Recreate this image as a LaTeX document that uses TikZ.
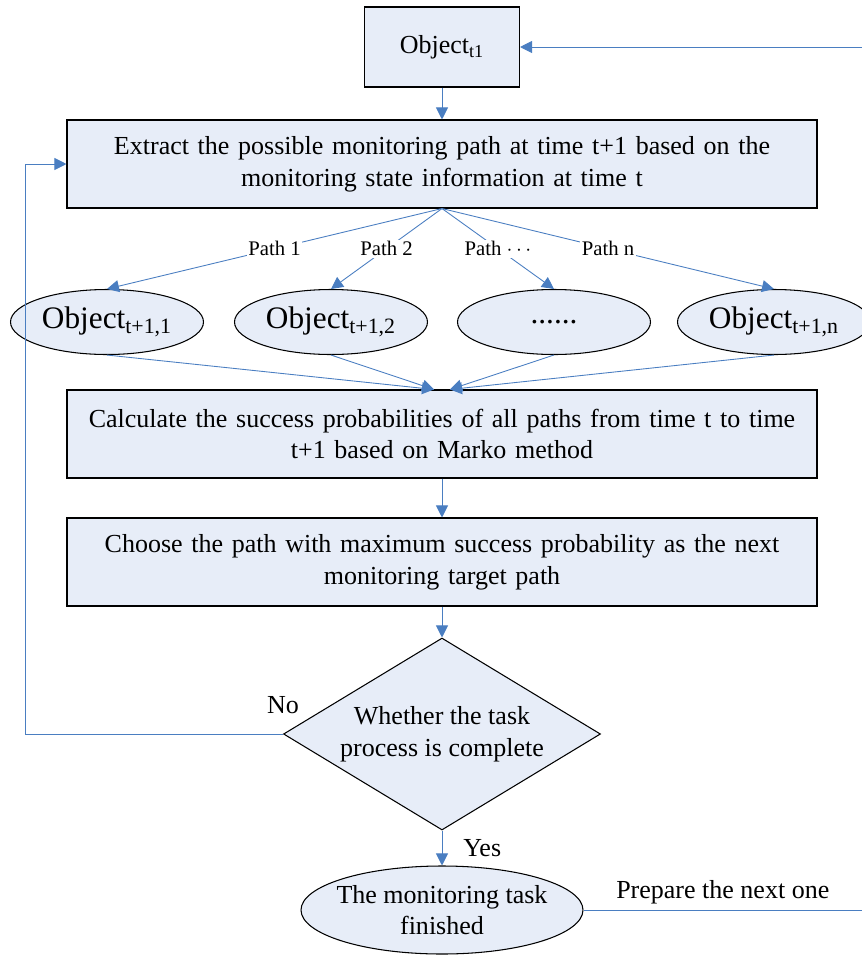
\documentclass[tikz,border=0pt]{standalone}
\usepackage{fontspec}
\setmainfont{Liberation Serif}
\usetikzlibrary{shapes.geometric,arrows.meta}
\definecolor{boxfill}{RGB}{231,237,248}
\definecolor{flowblue}{RGB}{74,126,193}
\newcommand{\flowfont}{\fontsize{14.8}{18}\selectfont}

\begin{document}
\begin{tikzpicture}[node distance=2cm, auto]
\tikzstyle{block} = [rectangle, draw, line width=0.6pt, fill=boxfill, inner sep=0pt, text width=15cm, align=center, minimum height=1.76cm, font=\flowfont]
\tikzstyle{objbox} = [rectangle, draw, line width=0.6pt, fill=boxfill, minimum width=3.1cm, minimum height=1.6cm, font=\flowfont]
\tikzstyle{state} = [ellipse, draw, line width=0.6pt, fill=boxfill, inner sep=0pt, minimum width=3.86cm, minimum height=1.3cm, font=\fontsize{17.8}{20}\selectfont]
\tikzstyle{final} = [ellipse, draw, line width=0.6pt, fill=boxfill, inner xsep=-0.2cm, inner ysep=0pt, align=center, minimum width=5.64cm, minimum height=1.76cm, font=\flowfont]
\tikzstyle{decision} = [diamond, draw, line width=0.6pt, fill=boxfill, aspect=1.65, inner sep=0pt, align=center, minimum width=6.34cm, minimum height=3.84cm, font=\flowfont]
\tikzstyle{arrow} = [draw=flowblue, line width=0.5pt, ->, >={Triangle[length=0.24cm,width=0.24cm]}]
\tikzstyle{link} = [draw=flowblue, line width=0.5pt]
\tikzstyle{pathlabel} = [auto=false, fill=white, inner sep=1pt, font=\fontsize{11.8}{13}\selectfont]

\useasboundingbox (0,0) rectangle (17.24,-19.1);

\node [objbox] (obj) at (8.84,-0.94) {Object\textsubscript{t1}};
\node [block, below of=obj, node distance=2.34cm] (extract) {Extract the possible monitoring path at time t+1 based on the\\monitoring state information at time t};
\node [state, below of=extract, node distance=3.16cm, xshift=-6.7cm] (obj1) {Object\textsubscript{t+1,1}};
\node [state, below of=extract, node distance=3.16cm, xshift=-2.22cm] (obj2) {Object\textsubscript{t+1,2}};
\node [state, below of=extract, node distance=3.16cm, xshift=2.24cm] (objdots) {......};
\node [state, below of=extract, node distance=3.16cm, xshift=6.64cm] (objn) {Object\textsubscript{t+1,n}};
\node [block, below of=extract, node distance=5.4cm] (calc) {Calculate the success probabilities of all paths from time t to time\\t+1 based on Marko method};
\node [block, below of=calc, node distance=2.56cm] (choose) {Choose the path with maximum success probability as the next\\monitoring target path};
\node [decision, below of=choose, node distance=3.44cm] (check) {Whether the task\\process is complete};
\node [final, below of=check, node distance=3.52cm] (done) {The monitoring task\\finished};

\coordinate [right of=obj, node distance=8.4cm] (feedin);
\coordinate [right of=done, node distance=8.4cm] (feedout);
\coordinate [left of=extract, node distance=8.34cm] (loopup);
\node [font=\flowfont] (nolabel) at ([yshift=0.58cm]check.west) {No};

\draw [arrow] (feedin) -- (obj);
\draw [arrow] (obj) -- (extract);

% fan out to the candidate paths
\draw [arrow] (extract.south) -- node[pathlabel] {Path 1} (obj1.north);
\draw [arrow] (extract.south) -- node[pathlabel] {Path 2} (obj2.north);
\draw [arrow] (extract.south) -- node[pathlabel] {Path $\cdots$} (objdots.north);
\draw [arrow] (extract.south) -- node[pathlabel] {Path n} (objn.north);

\draw [arrow] (obj1.south) -- ([xshift=-0.16cm]calc.north);
\draw [arrow] (obj2.south) -- ([xshift=-0.16cm]calc.north);
\draw [arrow] (objdots.south) -- ([xshift=0.16cm]calc.north);
\draw [arrow] (objn.south) -- ([xshift=0.16cm]calc.north);

\draw [arrow] (calc) -- (choose);
\draw [arrow] (choose) -- (check);
\draw [arrow] (check) -- node[font=\flowfont, xshift=0.3cm] {Yes} (done);
\draw [arrow] (check.west) -| (loopup) -- (extract.west);
\draw [link] (done) -- node[above, font=\flowfont] {Prepare the next one} (feedout);
\end{tikzpicture}
\end{document}
